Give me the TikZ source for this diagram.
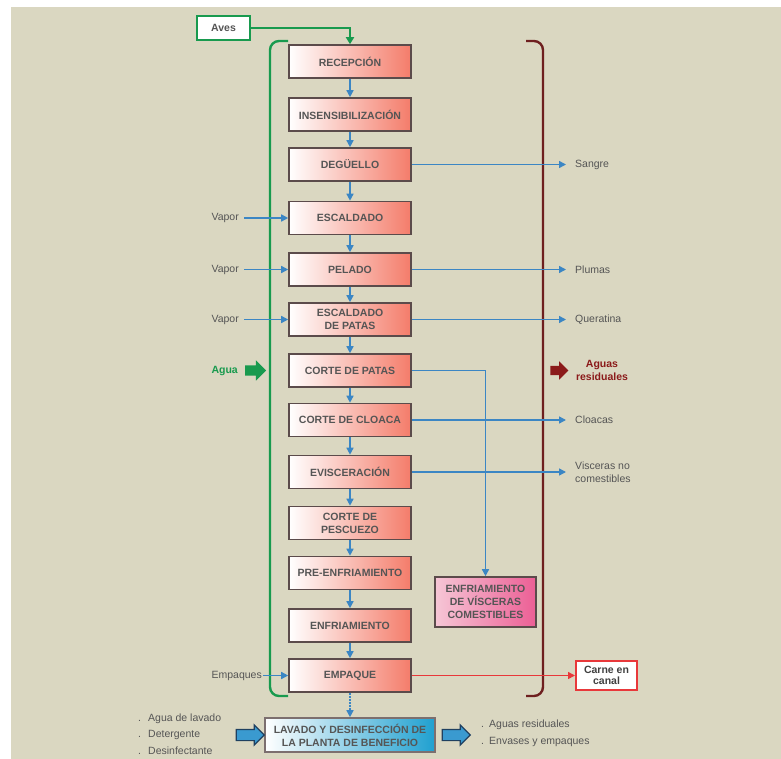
\documentclass[tikz,border=0pt]{standalone}
\usepackage{fontspec}
\setmainfont{Liberation Sans}
\usetikzlibrary{arrows.meta,shapes.arrows}
\definecolor{bgc}{HTML}{DAD7C1}
\definecolor{flowblue}{HTML}{3B86C4}
\definecolor{boxborder}{HTML}{5B4B4B}
\definecolor{salmon}{HTML}{F47C6A}
\definecolor{txtgray}{HTML}{555555}
\definecolor{grn}{HTML}{189A4E}
\definecolor{dred}{HTML}{6E1F1F}
\definecolor{dredtxt}{HTML}{8B1A1A}
\definecolor{redl}{HTML}{E8383A}
\definecolor{pinkl}{HTML}{F6C6D6}
\definecolor{pinkr}{HTML}{EC5F95}
\definecolor{cyanr}{HTML}{1FA0D0}
\definecolor{fatblue}{HTML}{3A9AD0}
\definecolor{fatblueb}{HTML}{1F4060}
\begin{document}
\begin{tikzpicture}[x=1pt,y=-1pt,
  procbox/.style={draw=boxborder, line width=1.6pt, minimum width=122pt, minimum height=33pt,
    inner sep=2pt, left color=white, right color=salmon, text=txtgray,
    font=\bfseries\fontsize{10.5}{13}\selectfont, align=center},
  sidelabel/.style={inner sep=0pt, text=txtgray, font=\fontsize{10.5}{13}\selectfont, align=left},
  flow/.style={draw=flowblue, line width=1.5pt, -{Triangle[length=7pt,width=7pt]}},
  greenflow/.style={draw=grn, line width=2.2pt, -{Triangle[length=7pt,width=8pt]}},
  redflow/.style={draw=redl, line width=1.5pt, -{Triangle[length=7pt,width=7pt]}},
  fatarrow/.style={single arrow, inner xsep=0pt, inner ysep=5pt, single arrow head extend=4.5pt,
    single arrow head indent=0pt}
]
\useasboundingbox (0,0) rectangle (781,759);
\fill[white] (0,0) rectangle (781,759);
\fill[bgc] (11,7) rectangle (781,759);

% brackets
\coordinate (gtop) at (288,41);
\coordinate (gbot) at (288,696);
\draw[grn, line width=2.4pt, rounded corners=9pt] (gtop) -- (270,41) -- (270,696) -- (gbot);
\coordinate (rtop) at (526,41);
\coordinate (rbot) at (526,696);
\draw[dred, line width=2.4pt, rounded corners=9pt] (rtop) -- (543,41) -- (543,696) -- (rbot);

% main boxes
\node[procbox] (b1) at (350,61.5) {RECEPCIÓN};
\node[procbox] (b2) at (350,114.5) {INSENSIBILIZACIÓN};
\node[procbox] (b3) at (350,164.5) {DEGÜELLO};
\node[procbox] (b4) at (350,218) {ESCALDADO};
\node[procbox] (b5) at (350,269.5) {PELADO};
\node[procbox] (b6) at (350,319.5) {ESCALDADO\\DE PATAS};
\node[procbox] (b7) at (350,370.5) {CORTE DE PATAS};
\node[procbox] (b8) at (350,420) {CORTE DE CLOACA};
\node[procbox] (b9) at (350,472) {EVISCERACIÓN};
\node[procbox] (b10) at (350,523) {CORTE DE\\PESCUEZO};
\node[procbox] (b11) at (350,573) {PRE-ENFRIAMIENTO};
\node[procbox] (b12) at (350,625.5) {ENFRIAMIENTO};
\node[procbox] (b13) at (350,675.5) {EMPAQUE};

\foreach \a/\b in {b1/b2,b2/b3,b3/b4,b4/b5,b5/b6,b6/b7,b7/b8,b8/b9,b9/b10,b10/b11,b11/b12,b12/b13}
  \draw[flow] (\a) -- (\b);

% Aves
\node[draw=grn, line width=2pt, fill=white, minimum width=53pt, minimum height=24pt, inner sep=0pt,
  text=txtgray, font=\bfseries\fontsize{10.5}{13}\selectfont] (aves) at (223.5,28) {Aves};
\draw[greenflow] (aves.east) -| (b1.north);

% left inputs
\node[sidelabel, anchor=east] (vap1) at (239,218) {Vapor};
\node[sidelabel, anchor=east] (vap2) at (239,269.5) {Vapor};
\node[sidelabel, anchor=east] (vap3) at (239,319.5) {Vapor};
\draw[flow, shorten <=5pt] (vap1.east) -- (b4.west);
\draw[flow, shorten <=5pt] (vap2.east) -- (b5.west);
\draw[flow, shorten <=5pt] (vap3.east) -- (b6.west);
\node[sidelabel, anchor=east, text=grn, font=\bfseries\fontsize{10.5}{13}\selectfont] (agua) at (238,370.5) {Agua};
\node[fatarrow, fill=grn, minimum height=21pt, inner ysep=5pt, single arrow head extend=5pt] (aguaarr) at (253,370.5) {};
\node[sidelabel, anchor=east] (emp) at (262,675.5) {Empaques};
\draw[flow, shorten <=1pt] (emp.east) -- (b13.west);

% right outputs
\node[sidelabel, anchor=west] (sangre) at (575,164.5) {Sangre};
\node[sidelabel, anchor=west] (plumas) at (575,269.5) {Plumas};
\node[sidelabel, anchor=west] (querat) at (575,319.5) {Queratina};
\node[sidelabel, anchor=west] (cloacas) at (575,420) {Cloacas};
\node[sidelabel, anchor=west] (visc) at (575,472) {Visceras no\\comestibles};
\draw[flow, shorten >=9pt] (b3.east) -- (b3.east -| sangre.west);
\draw[flow, shorten >=9pt] (b5.east) -- (b5.east -| plumas.west);
\draw[flow, shorten >=9pt] (b6.east) -- (b6.east -| querat.west);
\draw[flow, shorten >=9pt] (b8.east) -- (b8.east -| cloacas.west);
\draw[flow, shorten >=9pt] (b9.east) -- (b9.east -| visc.west);

\node[inner sep=0pt, text=dredtxt, align=center, font=\bfseries\fontsize{10.5}{13}\selectfont] (aguasres) at (602,370.5) {Aguas\\residuales};
\node[fatarrow, fill=dredtxt, minimum height=18pt, inner ysep=4.5pt] (resarr) at (557,370.5) {};

% visceras comestibles
\node[draw=boxborder, line width=1.6pt, minimum width=101pt, minimum height=50pt, inner sep=2pt,
  left color=pinkl, right color=pinkr, text=txtgray, align=center,
  font=\bfseries\fontsize{10.5}{13}\selectfont] (env) at (485.5,602) {ENFRIAMIENTO\\DE VÍSCERAS\\COMESTIBLES};
\draw[flow] (b7.east) -| (env.north);

% carne en canal
\node[draw=redl, line width=2pt, fill=white, minimum width=61pt, minimum height=29pt, inner sep=1pt,
  align=center, text=black!75, font=\bfseries\fontsize{10.5}{11}\selectfont] (carne) at (606.5,675.5) {Carne en\\canal};
\draw[redflow] (b13.east) -- (carne.west);

% lavado
\node[draw=boxborder!80, line width=1.6pt, minimum width=170pt, minimum height=34pt, inner sep=2pt,
  left color=white, right color=cyanr, text=txtgray, align=center,
  font=\bfseries\fontsize{10.5}{13}\selectfont] (lav) at (350,735) {LAVADO Y DESINFECCIÓN DE\\LA PLANTA DE BENEFICIO};
\draw[flow, dash pattern=on 2pt off 1pt] (b13) -- (lav);
\node[fatarrow, draw=fatblueb, line width=1.2pt, fill=fatblue, minimum height=28pt, inner ysep=5pt] (larr) at (247.5,735) {};
\node[fatarrow, draw=fatblueb, line width=1.2pt, fill=fatblue, minimum height=28pt, inner ysep=5pt] (rarr) at (453.5,735) {};

\node[sidelabel, anchor=west] (l1) at (138,719) {\makebox[10pt][l]{.}Agua de lavado};
\node[sidelabel, anchor=west] (l2) at (138,735) {\makebox[10pt][l]{.}Detergente};
\node[sidelabel, anchor=west] (l3) at (138,751) {\makebox[10pt][l]{.}Desinfectante};
\node[sidelabel, anchor=west] (r1) at (481,725) {\makebox[8pt][l]{.}Aguas residuales};
\node[sidelabel, anchor=west] (r2) at (481,742) {\makebox[8pt][l]{.}Envases y empaques};
\end{tikzpicture}
\end{document}
